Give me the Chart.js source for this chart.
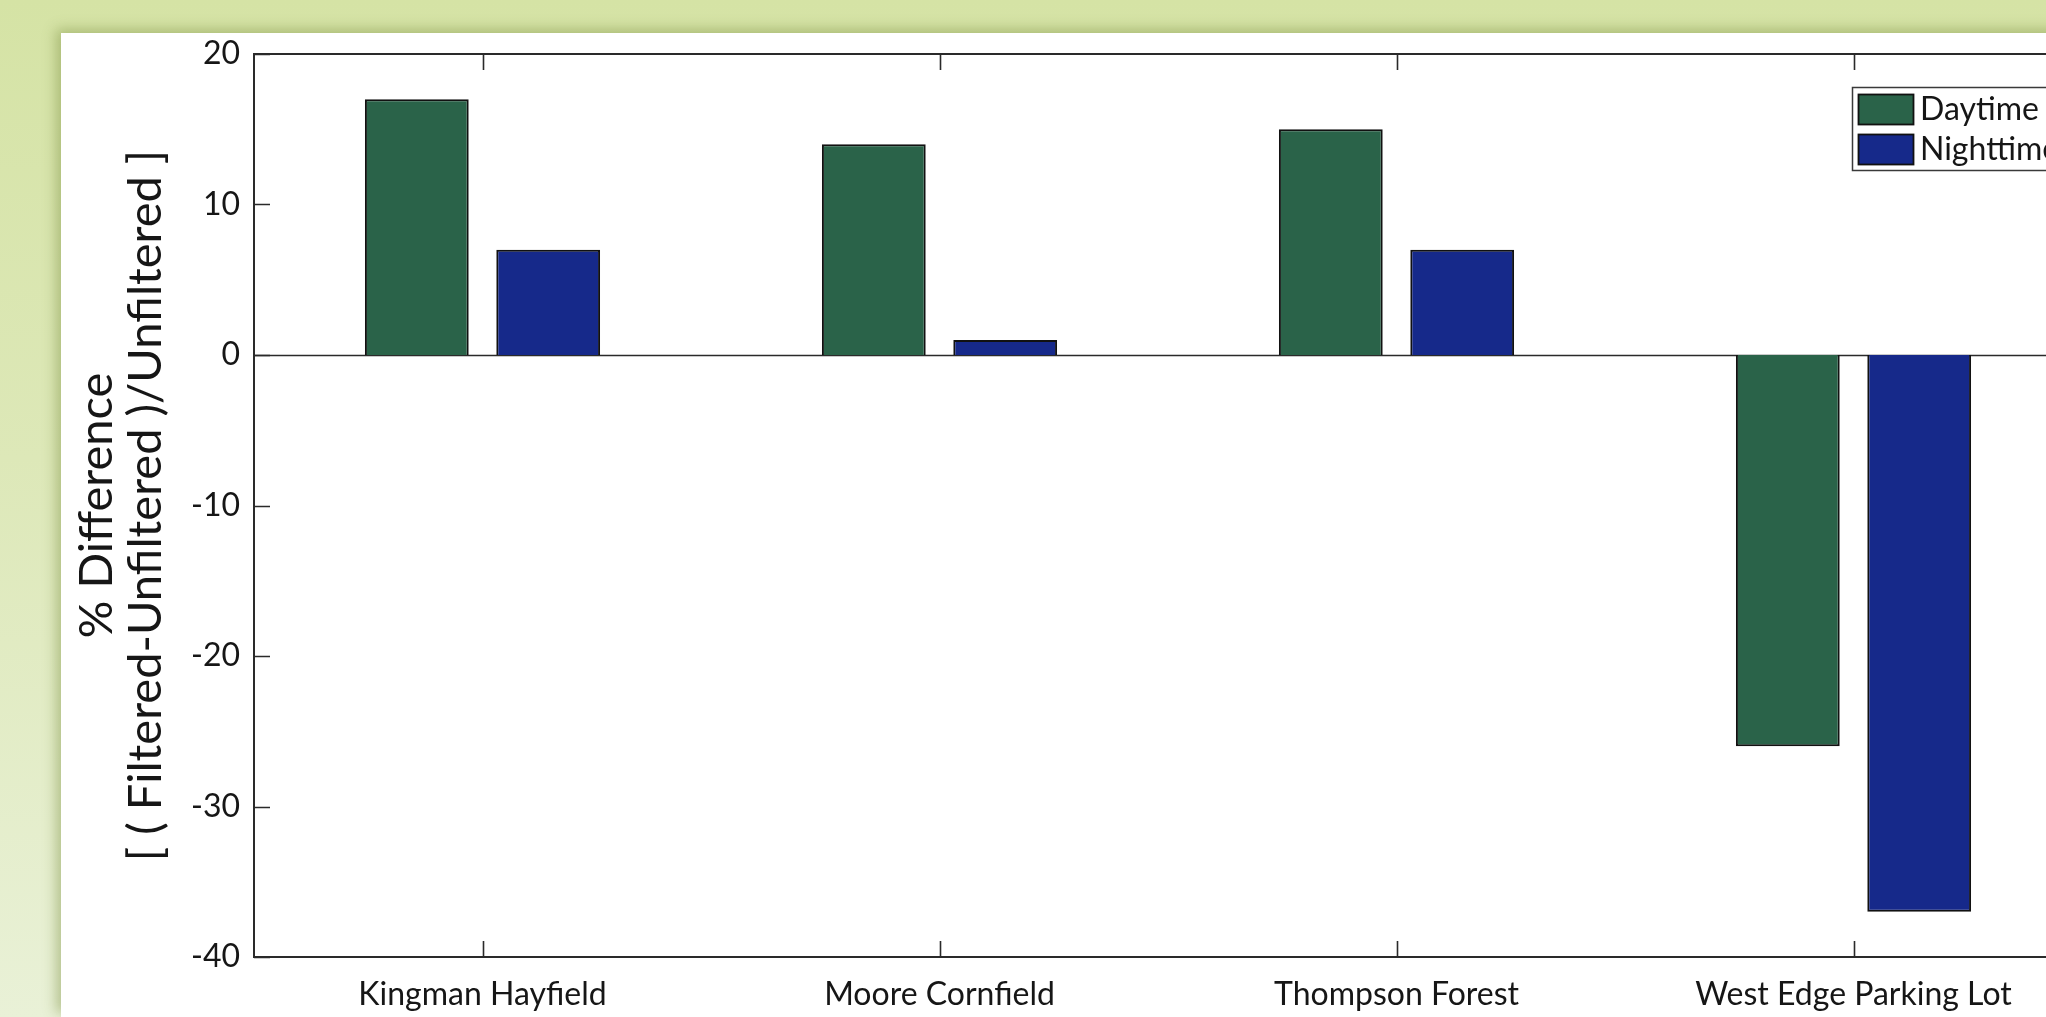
<!DOCTYPE html>
<html>
<head>
<meta charset="utf-8">
<script src="https://cdn.jsdelivr.net/npm/chart.js@4/dist/chart.umd.min.js"></script>
<style>
  html, body { margin: 0; padding: 0; width: 2046px; height: 1017px; overflow: hidden; }
  body { background: linear-gradient(to bottom, #d5e3a5 0%, #dde8b8 45%, #e9f1d7 100%); position: relative; }
  #panel {
    position: absolute; left: 61px; top: 33px; width: 2100px; height: 984px;
    background: #ffffff;
    box-shadow: -5px -4px 12px rgba(120, 140, 60, 0.45);
  }
  #chart { display: block; }
</style>
</head>
<body>
<div id="panel"><canvas id="chart" width="2100" height="984"></canvas></div>
<script>
// Sites and the percent change of filtered vs. unfiltered readings
const sites = ['Kingman Hayfield', 'Moore Cornfield', 'Thompson Forest', 'West Edge Parking Lot'];
const daytime = [17, 14, 15, -26];
const nighttime = [7, 1, 7, -37];
const seriesNames = ['Daytime', 'Nighttime'];
const yTicks = [-40, -30, -20, -10, 0, 10, 20];
const yTitle = ['% Difference', '[ ( Filtered-Unfiltered )/Unfiltered ]'];

const FONT = 'Lato, "Open Sans", "DejaVu Sans", sans-serif';
const INK = '#161616';
const TICK_LEN = 16;

// Axes box, inward ticks, zero baseline and boxed legend
const framePlugin = {
  id: 'frame',
  beforeDatasetsDraw(chart) {
    const { ctx, chartArea: a, scales: { y } } = chart;
    const y0 = Math.round(y.getPixelForValue(0)) + 0.5;
    ctx.save();
    ctx.strokeStyle = '#2a2a2a';
    ctx.lineWidth = 1.5;
    ctx.beginPath();
    ctx.moveTo(a.left, y0);
    ctx.lineTo(a.right, y0);
    ctx.stroke();
    ctx.restore();
  },
  afterDatasetsDraw(chart) {
    const { ctx, chartArea: a, scales: { x, y } } = chart;
    ctx.save();
    ctx.strokeStyle = '#2a2a2a';
    ctx.lineWidth = 2;
    ctx.strokeRect(a.left, a.top, a.right - a.left, a.bottom - a.top);
    ctx.lineWidth = 1.6;
    ctx.beginPath();
    x.ticks.forEach((t, i) => {
      const px = Math.round(x.getPixelForTick(i)) + 0.5;
      ctx.moveTo(px, a.bottom); ctx.lineTo(px, a.bottom - TICK_LEN);
      ctx.moveTo(px, a.top); ctx.lineTo(px, a.top + TICK_LEN);
    });
    y.ticks.forEach((t, i) => {
      const py = Math.round(y.getPixelForTick(i)) + 0.5;
      ctx.moveTo(a.left, py); ctx.lineTo(a.left + TICK_LEN, py);
      ctx.moveTo(a.right, py); ctx.lineTo(a.right - TICK_LEN, py);
    });
    ctx.stroke();

    // legend
    const lx = a.right - 230, ly = a.top + 33;
    const rowH = 40;
    ctx.fillStyle = '#ffffff';
    ctx.fillRect(lx, ly, 262, 84);
    ctx.strokeStyle = '#3a3a3a';
    ctx.lineWidth = 1.5;
    ctx.strokeRect(lx + 0.5, ly + 0.5, 262, 83);
    ctx.font = '32px ' + FONT;
    ctx.textBaseline = 'middle';
    ctx.textAlign = 'left';
    chart.data.datasets.forEach((ds, i) => {
      const by = ly + 7 + i * rowH;
      ctx.fillStyle = ds.backgroundColor;
      ctx.fillRect(lx + 6, by, 56, 31);
      ctx.strokeStyle = '#111111';
      ctx.lineWidth = 1.8;
      ctx.strokeRect(lx + 6.5, by + 0.5, 55, 30);
      ctx.fillStyle = INK;
      ctx.fillText(ds.label, lx + 68, by + 16);
    });
    ctx.restore();
  }
};

new Chart(document.getElementById('chart'), {
  type: 'bar',
  data: {
    labels: sites,
    datasets: [
      { label: seriesNames[0], data: daytime, backgroundColor: '#2a6349', borderColor: '#111111', borderWidth: 2 },
      { label: seriesNames[1], data: nighttime, backgroundColor: '#16298a', borderColor: '#111111', borderWidth: 2 }
    ]
  },
  options: {
    responsive: false,
    animation: false,
    devicePixelRatio: 1,
    layout: { padding: { top: 21, right: 79, left: 0, bottom: 0 } },
    datasets: { bar: { barPercentage: 0.79, categoryPercentage: 0.575 } },
    plugins: { legend: { display: false }, tooltip: { enabled: false } },
    scales: {
      x: {
        grid: { display: false, drawTicks: false },
        border: { display: false },
        ticks: { color: INK, padding: 18, maxRotation: 0, font: { family: FONT, size: 32 } },
        afterFit(s) { s.height = 60; s.paddingLeft = 0; s.paddingRight = 0; }
      },
      y: {
        min: -40, max: 20,
        afterBuildTicks(s) { s.ticks = yTicks.map(v => ({ value: v })); },
        grid: { display: false, drawTicks: false },
        border: { display: false },
        ticks: { color: INK, padding: 14, font: { family: FONT, size: 32 } },
        title: {
          display: true, text: yTitle, color: INK,
          padding: { top: 11, bottom: 0 },
          font: { family: FONT, size: 47, lineHeight: 1.05 }
        },
        afterFit(s) { s.width = 193; s.paddingTop = 0; s.paddingBottom = 0; }
      }
    }
  },
  plugins: [framePlugin]
});
</script>
</body>
</html>
